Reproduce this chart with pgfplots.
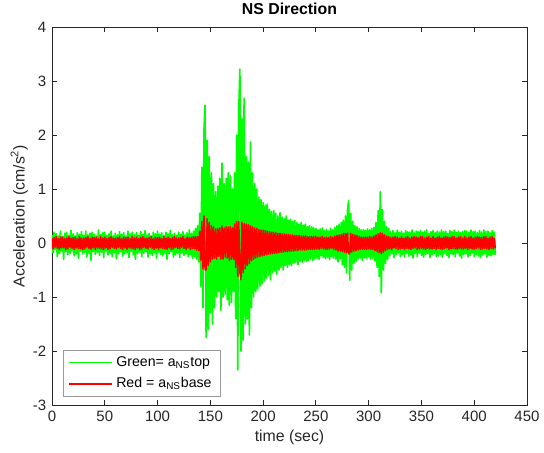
\documentclass[border=0pt]{standalone}
\usepackage{fontspec}
\setmainfont{Liberation Sans}
\usepackage{pgfplots}
\usepackage{pgfplotstable}
\pgfplotsset{compat=1.18}
\definecolor{axgray}{rgb}{0.15,0.15,0.15}

% t = time (s), g = top (green), r = base (red)
\pgfplotstableread[row sep=\\]{
t g r\\
0 0.15 0.09\\ 1 -0.18 -0.11\\ 2 0.20 0.10\\ 3 -0.12 -0.08\\ 4 0.17 0.12\\ 5 -0.25 -0.10\\ 6 0.13 0.08\\ 7 -0.20 -0.12\\ 8 0.22 0.11\\ 9 -0.15 -0.09\\
10 0.12 0.11\\ 11 -0.30 -0.09\\ 12 0.18 0.08\\ 13 -0.16 -0.12\\ 14 0.20 0.10\\ 15 -0.22 -0.11\\ 16 0.14 0.12\\ 17 -0.19 -0.08\\ 18 0.23 0.09\\ 19 -0.14 -0.10\\
20 0.17 0.10\\ 21 -0.24 -0.12\\ 22 0.13 0.11\\ 23 -0.20 -0.09\\ 24 0.19 0.08\\ 25 -0.28 -0.10\\ 26 0.16 0.12\\ 27 -0.15 -0.11\\ 28 0.21 0.09\\ 29 -0.20 -0.12\\
30 0.14 0.09\\ 31 -0.17 -0.11\\ 32 0.22 0.10\\ 33 -0.26 -0.08\\ 34 0.15 0.12\\ 35 -0.19 -0.10\\ 36 0.18 0.08\\ 37 -0.32 -0.12\\ 38 0.20 0.11\\ 39 -0.16 -0.09\\
40 0.16 0.10\\ 41 -0.21 -0.12\\ 42 0.13 0.11\\ 43 -0.18 -0.09\\ 44 0.24 0.08\\ 45 -0.23 -0.10\\ 46 0.15 0.12\\ 47 -0.17 -0.11\\ 48 0.19 0.09\\ 49 -0.27 -0.12\\
50 0.20 0.11\\ 51 -0.15 -0.09\\ 52 0.14 0.08\\ 53 -0.22 -0.12\\ 54 0.17 0.10\\ 55 -0.19 -0.11\\ 56 0.22 0.12\\ 57 -0.25 -0.08\\ 58 0.13 0.09\\ 59 -0.18 -0.10\\
60 0.18 0.09\\ 61 -0.29 -0.11\\ 62 0.15 0.10\\ 63 -0.20 -0.08\\ 64 0.21 0.12\\ 65 -0.16 -0.10\\ 66 0.16 0.08\\ 67 -0.24 -0.12\\ 68 0.19 0.11\\ 69 -0.20 -0.09\\
70 0.13 0.10\\ 71 -0.18 -0.12\\ 72 0.22 0.11\\ 73 -0.27 -0.09\\ 74 0.17 0.08\\ 75 -0.15 -0.10\\ 76 0.20 0.12\\ 77 -0.22 -0.11\\ 78 0.15 0.09\\ 79 -0.30 -0.12\\
80 0.19 0.11\\ 81 -0.20 -0.09\\ 82 0.14 0.08\\ 83 -0.17 -0.12\\ 84 0.21 0.10\\ 85 -0.25 -0.11\\ 86 0.16 0.12\\ 87 -0.19 -0.08\\ 88 0.23 0.09\\ 89 -0.16 -0.10\\
90 0.15 0.09\\ 91 -0.26 -0.11\\ 92 0.18 0.10\\ 93 -0.20 -0.08\\ 94 0.13 0.12\\ 95 -0.23 -0.10\\ 96 0.20 0.08\\ 97 -0.18 -0.12\\ 98 0.17 0.11\\ 99 -0.28 -0.09\\
100 0.22 0.10\\ 101 -0.17 -0.12\\ 102 0.16 0.11\\ 103 -0.21 -0.09\\ 104 0.19 0.08\\ 105 -0.24 -0.10\\ 106 0.14 0.12\\ 107 -0.19 -0.11\\ 108 0.20 0.09\\ 109 -0.30 -0.12\\
110 0.17 0.11\\ 111 -0.20 -0.09\\ 112 0.23 0.08\\ 113 -0.16 -0.12\\ 114 0.15 0.10\\ 115 -0.26 -0.11\\ 116 0.18 0.12\\ 117 -0.22 -0.08\\ 118 0.14 0.09\\ 119 -0.19 -0.10\\
120 0.20 0.09\\ 121 -0.27 -0.11\\ 122 0.16 0.10\\ 123 -0.18 -0.08\\ 124 0.21 0.12\\ 125 -0.23 -0.10\\ 126 0.15 0.08\\ 127 -0.20 -0.12\\ 128 0.19 0.11\\ 129 -0.25 -0.09\\
130 0.24 0.10\\ 131 -0.22 -0.12\\ 132 0.18 0.11\\ 133 -0.28 -0.10\\ 134 0.22 0.12\\ 135 -0.25 -0.11\\ 136 0.27 0.12\\ 137 -0.30 -0.13\\ 138 0.32 0.12\\ 139 -0.35 -0.14\\
140 0.55 0.22\\ 141 -0.80 -0.32\\ 142 1.40 0.40\\ 143 -1.20 -0.48\\ 144 2.10 0.50\\ 145 2.55 -0.50\\ 146 -1.75 -0.50\\ 147 1.90 0.45\\ 148 -1.60 -0.42\\ 149 1.60 0.38\\
150 -1.30 -0.35\\ 151 1.30 0.32\\ 152 -1.50 -0.30\\ 153 1.10 0.30\\ 154 -1.20 -0.28\\ 155 0.95 0.26\\ 156 -1.00 -0.30\\ 157 1.05 0.27\\ 158 -0.90 -0.25\\ 159 1.20 0.28\\
160 -1.25 -0.30\\ 161 1.48 0.32\\ 162 -1.00 -0.30\\ 163 1.10 0.28\\ 164 -0.95 -0.26\\ 165 1.20 0.30\\ 166 -1.05 -0.28\\ 167 1.30 0.30\\ 168 -1.15 -0.32\\ 169 1.25 0.30\\
170 -1.10 -0.30\\ 171 1.00 0.28\\ 172 -0.90 -0.30\\ 173 1.30 0.35\\ 174 -1.40 -0.45\\ 175 2.00 0.40\\ 176 -2.35 -0.62\\ 177 2.50 0.40\\ 178 3.22 -0.55\\ 179 -2.00 -0.68\\
180 2.30 0.38\\ 181 -1.80 -0.55\\ 182 2.68 0.36\\ 183 -1.50 -0.48\\ 184 1.60 0.35\\ 185 -1.40 -0.42\\ 186 1.50 0.34\\ 187 -1.70 -0.38\\ 188 1.87 0.32\\ 189 -1.20 -0.33\\
190 1.30 0.30\\ 191 -1.00 -0.30\\ 192 1.10 0.28\\ 193 -0.90 -0.28\\ 194 1.00 0.27\\ 195 -0.85 -0.26\\ 196 0.85 0.25\\ 197 -0.80 -0.25\\ 198 0.80 0.24\\ 199 -0.75 -0.24\\
200 0.75 0.24\\ 201 -0.70 -0.23\\ 202 0.70 0.23\\ 203 -0.65 -0.22\\ 204 0.72 0.22\\ 205 -0.60 -0.21\\ 206 0.62 0.21\\ 207 -0.68 -0.20\\ 208 0.58 0.20\\ 209 -0.55 -0.20\\
210 0.60 0.20\\ 211 -0.52 -0.19\\ 212 0.55 0.19\\ 213 -0.58 -0.19\\ 214 0.50 0.18\\ 215 -0.50 -0.18\\ 216 0.56 0.18\\ 217 -0.45 -0.17\\ 218 0.48 0.17\\ 219 -0.50 -0.17\\
220 0.45 0.17\\ 221 -0.42 -0.16\\ 222 0.50 0.16\\ 223 -0.45 -0.16\\ 224 0.42 0.16\\ 225 -0.40 -0.15\\ 226 0.44 0.15\\ 227 -0.42 -0.15\\ 228 0.40 0.15\\ 229 -0.38 -0.15\\
230 0.42 0.14\\ 231 -0.36 -0.14\\ 232 0.38 0.14\\ 233 -0.40 -0.14\\ 234 0.35 0.14\\ 235 -0.34 -0.13\\ 236 0.38 0.13\\ 237 -0.36 -0.13\\ 238 0.33 0.13\\ 239 -0.32 -0.13\\
240 0.35 0.13\\ 241 -0.34 -0.13\\ 242 0.30 0.12\\ 243 -0.33 -0.12\\ 244 0.32 0.12\\ 245 -0.30 -0.12\\ 246 0.30 0.12\\ 247 -0.32 -0.12\\ 248 0.28 0.12\\ 249 -0.30 -0.12\\
250 0.27 0.12\\ 251 -0.28 -0.11\\ 252 0.24 0.11\\ 253 -0.30 -0.12\\ 254 0.26 0.11\\ 255 -0.24 -0.10\\ 256 0.28 0.12\\ 257 -0.27 -0.11\\ 258 0.23 0.10\\ 259 -0.29 -0.12\\
260 0.25 0.11\\ 261 -0.26 -0.12\\ 262 0.22 0.10\\ 263 -0.31 -0.11\\ 264 0.27 0.12\\ 265 -0.25 -0.10\\ 266 0.24 0.11\\ 267 -0.28 -0.12\\ 268 0.29 0.13\\ 269 -0.30 -0.13\\
270 0.32 0.14\\ 271 -0.35 -0.15\\ 272 0.35 0.15\\ 273 -0.30 -0.15\\ 274 0.38 0.16\\ 275 -0.40 -0.16\\ 276 0.42 0.17\\ 277 -0.45 -0.17\\ 278 0.50 0.18\\ 279 -0.55 -0.18\\
280 0.62 0.19\\ 281 0.78 -0.20\\ 282 -0.69 -0.20\\ 283 0.55 0.18\\ 284 -0.50 -0.17\\ 285 0.40 0.16\\ 286 -0.38 -0.15\\ 287 0.32 0.15\\ 288 -0.34 -0.14\\ 289 0.30 0.14\\
290 -0.30 -0.13\\ 291 0.27 0.12\\ 292 -0.28 -0.12\\ 293 0.24 0.11\\ 294 -0.32 -0.12\\ 295 0.25 0.11\\ 296 -0.27 -0.12\\ 297 0.23 0.11\\ 298 -0.29 -0.12\\ 299 0.26 0.11\\
300 -0.25 -0.11\\ 301 0.24 0.12\\ 302 -0.30 -0.12\\ 303 0.27 0.11\\ 304 -0.28 -0.12\\ 305 0.29 0.13\\ 306 -0.33 -0.14\\ 307 0.38 0.15\\ 308 -0.45 -0.16\\ 309 0.60 0.17\\
310 -0.62 -0.18\\ 311 0.95 0.19\\ 312 -0.92 -0.20\\ 313 0.62 0.18\\ 314 -0.50 -0.17\\ 315 0.40 0.15\\ 316 -0.38 -0.14\\ 317 0.30 0.13\\ 318 -0.30 -0.12\\ 319 0.27 0.12\\
320 -0.24 -0.11\\ 321 0.21 0.10\\ 322 -0.20 -0.12\\ 323 0.23 0.11\\ 324 -0.27 -0.09\\ 325 0.19 0.12\\ 326 -0.22 -0.10\\ 327 0.24 0.11\\ 328 -0.18 -0.12\\ 329 0.20 0.09\\
330 -0.25 -0.11\\ 331 0.22 0.12\\ 332 -0.21 -0.10\\ 333 0.18 0.09\\ 334 -0.26 -0.12\\ 335 0.23 0.11\\ 336 -0.19 -0.10\\ 337 0.21 0.12\\ 338 -0.24 -0.11\\ 339 0.20 0.09\\
340 -0.22 -0.12\\ 341 0.24 0.11\\ 342 -0.28 -0.10\\ 343 0.19 0.12\\ 344 -0.20 -0.09\\ 345 0.22 0.11\\ 346 -0.25 -0.12\\ 347 0.21 0.10\\ 348 -0.19 -0.11\\ 349 0.23 0.12\\
350 -0.23 -0.10\\ 351 0.20 0.12\\ 352 -0.26 -0.11\\ 353 0.22 0.09\\ 354 -0.21 -0.12\\ 355 0.24 0.11\\ 356 -0.19 -0.10\\ 357 0.18 0.12\\ 358 -0.27 -0.11\\ 359 0.21 0.09\\
360 -0.22 -0.11\\ 361 0.23 0.12\\ 362 -0.20 -0.10\\ 363 0.19 0.09\\ 364 -0.25 -0.12\\ 365 0.22 0.11\\ 366 -0.24 -0.10\\ 367 0.20 0.12\\ 368 -0.21 -0.11\\ 369 0.24 0.09\\
370 -0.26 -0.12\\ 371 0.21 0.11\\ 372 -0.19 -0.10\\ 373 0.22 0.12\\ 374 -0.23 -0.09\\ 375 0.18 0.11\\ 376 -0.27 -0.12\\ 377 0.23 0.10\\ 378 -0.20 -0.11\\ 379 0.21 0.12\\
380 -0.22 -0.10\\ 381 0.24 0.12\\ 382 -0.25 -0.11\\ 383 0.20 0.09\\ 384 -0.19 -0.12\\ 385 0.22 0.11\\ 386 -0.24 -0.10\\ 387 0.19 0.12\\ 388 -0.28 -0.11\\ 389 0.21 0.09\\
390 -0.21 -0.11\\ 391 0.23 0.12\\ 392 -0.20 -0.10\\ 393 0.22 0.09\\ 394 -0.26 -0.12\\ 395 0.20 0.11\\ 396 -0.23 -0.10\\ 397 0.24 0.12\\ 398 -0.19 -0.11\\ 399 0.21 0.09\\
400 -0.25 -0.12\\ 401 0.22 0.11\\ 402 -0.21 -0.10\\ 403 0.19 0.12\\ 404 -0.24 -0.09\\ 405 0.23 0.11\\ 406 -0.27 -0.12\\ 407 0.20 0.10\\ 408 -0.22 -0.11\\ 409 0.24 0.12\\
410 -0.20 -0.10\\ 411 0.21 0.12\\ 412 -0.26 -0.11\\ 413 0.22 0.09\\ 414 -0.23 -0.12\\ 415 0.19 0.11\\ 416 -0.24 -0.10\\ 417 0.23 0.12\\ 418 -0.21 -0.11\\ 419 0.20 0.09\\
420 -0.22 -0.10\\
}\sig

\begin{document}
\begin{tikzpicture}
\begin{axis}[
  scale only axis, width=285pt, height=226.8pt,
  xmin=0, xmax=450, ymin=-3, ymax=4,
  xtick={0,50,...,450}, ytick={-3,...,4},
  tick align=inside, major tick length=3pt,
  axis line style={axgray}, tick style={axgray, line width=0.5pt},
  every tick label/.append style={font=\fontsize{9}{10}\selectfont, text=axgray},
  /pgf/number format/assume math mode=true,
  title={\textbf{NS Direction}},
  title style={font=\fontsize{9.5}{11}\selectfont, yshift=-2pt},
  xlabel={time (sec)},
  ylabel={Acceleration (cm/s\textsuperscript{2})},
  label style={font=\fontsize{9.5}{11}\selectfont, text=axgray},
  xlabel style={yshift=2pt},
  ylabel style={yshift=-4pt},
  legend style={at={(0.023,0.021)}, anchor=south west, draw=gray!80,
    fill=white, font=\fontsize{8.5}{10}\selectfont, row sep=1pt,
    inner xsep=3pt, inner ysep=2pt},
  legend cell align=left,
]
\addplot[draw=green, line width=1pt, line join=round,
  legend image code/.code={\draw[green, line width=0.7pt] (0cm,0cm) -- (0.9cm,0cm);}]
  table[x=t, y=g] {\sig};
\addlegendentry{Green= a\textsubscript{NS}top}
\addplot[draw=red, line width=0.9pt, line join=round,
  legend image code/.code={\draw[red, line width=1.2pt] (0cm,0cm) -- (0.9cm,0cm);}]
  table[x=t, y=r] {\sig};
\addlegendentry{Red = a\textsubscript{NS}base}
\coordinate (bl) at (rel axis cs:0,0);
\coordinate (tr) at (rel axis cs:1,1);
\end{axis}
\pgfresetboundingbox
\path ([shift={(-31.2pt,-28.8pt)}]bl) rectangle ([shift={(10.2pt,16.2pt)}]tr);
\end{tikzpicture}
\end{document}
